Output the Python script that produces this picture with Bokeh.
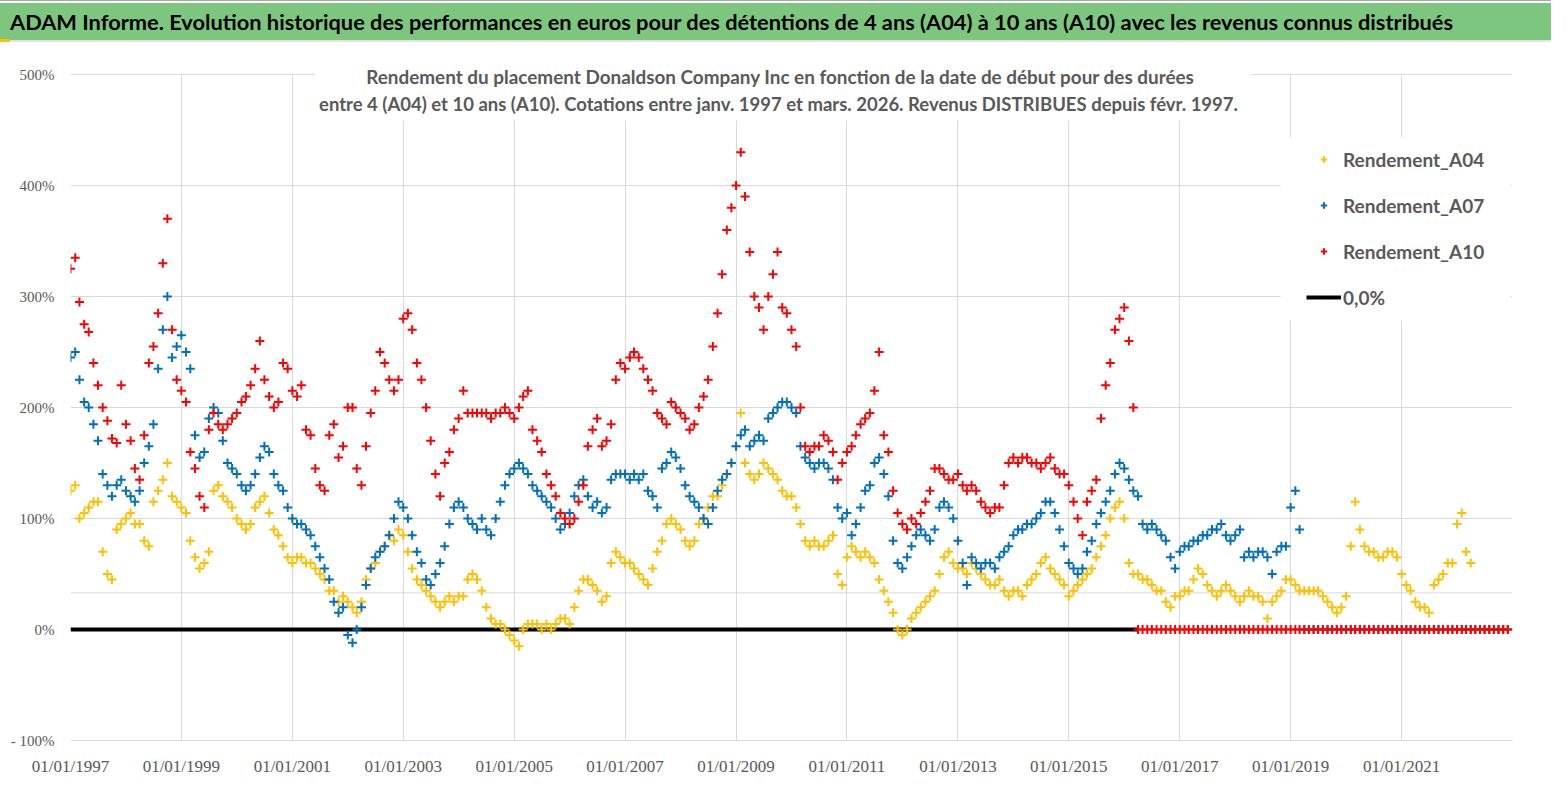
import pandas as pd
from bokeh.plotting import figure
from bokeh.layouts import column
from bokeh.models import (Range1d, FixedTicker, DatetimeTickFormatter, Span,
                          BoxAnnotation, Label, Legend, LegendItem, Div)
from bokeh.embed import file_html
from bokeh.resources import INLINE

# ---------------- data (monthly readings, % return) ----------------
MONTHS = pd.date_range("1997-01-01", "2022-12-01", freq="MS")

A04 = [
    125, 130, 100, 105, 110, 115, 115, 70, 50, 45, 90, 95,        # 1997
    100, 105, 95, 95, 80, 75, 115, 125, 135, 150, 120, 115,       # 1998
    110, 105, 80, 65, 55, 60, 70, 125, 130, 120, 115, 110,        # 1999
    100, 95, 90, 95, 110, 115, 120, 105, 90, 85, 75, 65,          # 2000
    60, 65, 65, 60, 60, 55, 50, 45, 35, 35, 25, 30,               # 2001
    25, 20, 15, 25, 45, 55, 60, 70, 75, 85, 80, 90,               # 2002
    85, 70, 55, 45, 40, 35, 30, 25, 20, 25, 30, 25,               # 2003
    30, 30, 45, 50, 45, 35, 20, 10, 5, 5, 0, -5,                  # 2004
    -10, -15, 0, 5, 5, 5, 0, 5, 0, 5, 10, 10,                     # 2005
    5, 20, 35, 45, 45, 40, 35, 25, 30, 60, 70, 65,                # 2006
    60, 60, 55, 50, 45, 40, 55, 70, 80, 95, 100, 95,              # 2007
    90, 80, 75, 80, 95, 100, 110, 120, 120, 130, 140, 150,        # 2008
    165, 195, 150, 140, 135, 140, 150, 145, 140, 135, 125, 120,   # 2009
    120, 110, 95, 80, 75, 80, 75, 75, 80, 85, 50, 40,             # 2010
    65, 75, 70, 65, 70, 65, 60, 45, 35, 25, 15, 0,                # 2011
    -5, 0, 10, 15, 20, 25, 30, 35, 50, 65, 70, 60,                # 2012
    55, 55, 50, 60, 55, 50, 45, 40, 40, 45, 35, 30,               # 2013
    35, 35, 30, 40, 45, 50, 60, 65, 55, 50, 45, 40,               # 2014
    30, 35, 40, 45, 50, 55, 65, 75, 85, 100, 110, 115,            # 2015
    100, 60, 50, 50, 45, 45, 40, 35, 35, 25, 20, 30,              # 2016
    30, 35, 35, 45, 55, 50, 40, 35, 30, 35, 40, 35,               # 2017
    30, 25, 30, 35, 30, 30, 25, 10, 25, 30, 35, 45,               # 2018
    45, 40, 35, 35, 35, 35, 35, 30, 25, 20, 15, 20,               # 2019
    30, 75, 115, 90, 75, 70, 70, 65, 65, 70, 70, 65,              # 2020
    50, 40, 35, 25, 20, 20, 15, 40, 45, 50, 60, 60,               # 2021
    95, 105, 70, 60,                                              # 2022
]

A07 = [
    245, 250, 225, 205, 200, 185, 170, 140, 130, 120, 130, 135,   # 1997
    125, 120, 115, 125, 150, 165, 185, 235, 270, 300, 245, 255,   # 1998
    265, 250, 235, 175, 155, 160, 190, 200, 195, 170, 150, 145,   # 1999
    140, 130, 125, 130, 140, 155, 165, 160, 140, 130, 125, 110,   # 2000
    100, 95, 95, 90, 85, 75, 65, 55, 45, 25, 15, 20,              # 2001
    -5, -12, 0, 20, 40, 55, 65, 70, 75, 85, 100, 115,             # 2002
    110, 100, 85, 70, 60, 45, 40, 50, 60, 75, 95, 110,            # 2003
    115, 110, 100, 95, 90, 100, 90, 85, 100, 115, 130, 140,       # 2004
    145, 150, 145, 140, 130, 125, 120, 115, 110, 100, 90, 95,     # 2005
    105, 120, 130, 135, 120, 110, 115, 105, 110, 135, 140, 140,   # 2006
    140, 135, 140, 135, 140, 125, 120, 110, 145, 150, 160, 155,   # 2007
    145, 130, 120, 115, 110, 100, 95, 110, 125, 135, 140, 150,    # 2008
    165, 175, 180, 165, 170, 175, 170, 190, 195, 200, 205, 205,   # 2009
    200, 195, 165, 155, 150, 145, 150, 150, 145, 135, 110, 100,   # 2010
    105, 85, 95, 110, 125, 130, 150, 155, 140, 120, 80, 60,       # 2011
    55, 65, 75, 85, 90, 85, 80, 90, 110, 115, 110, 100,           # 2012
    80, 60, 40, 65, 60, 55, 60, 60, 55, 65, 70, 75,               # 2013
    85, 90, 90, 95, 95, 100, 105, 115, 115, 105, 90, 75,          # 2014
    60, 55, 50, 55, 70, 80, 95, 105, 115, 125, 140, 150,          # 2015
    145, 135, 125, 120, 95, 90, 95, 90, 85, 80, 65, 55,           # 2016
    70, 75, 75, 80, 80, 85, 85, 90, 90, 95, 85, 80,               # 2017
    85, 90, 65, 70, 65, 70, 70, 65, 50, 70, 75, 75,               # 2018
    110, 125, 90,                                                 # 2019
]

A10 = [
    325, 335, 295, 275, 268, 240, 220, 200, 188, 172, 168, 220,   # 1997
    185, 170, 145, 135, 175, 240, 255, 285, 330, 370, 270, 225,   # 1998
    215, 205, 160, 145, 120, 110, 180, 195, 185, 180, 185, 190,   # 1999
    195, 205, 210, 220, 235, 260, 225, 210, 200, 205, 240, 235,   # 2000
    215, 210, 220, 180, 175, 145, 130, 125, 175, 185, 155, 165,   # 2001
    200, 200, 145, 130, 165, 195, 215, 250, 240, 225, 215, 225,   # 2002
    280, 285, 270, 240, 225, 200, 170, 140, 120, 150, 160, 180,   # 2003
    190, 215, 195, 195, 195, 195, 195, 190, 195, 195, 200, 195,   # 2004
    190, 200, 210, 215, 180, 170, 160, 140, 130, 120, 105, 100,   # 2005
    95, 100, 115, 130, 165, 180, 190, 165, 170, 185, 225, 240,    # 2006
    235, 245, 250, 245, 235, 225, 215, 195, 190, 185, 205, 200,   # 2007
    195, 190, 180, 185, 200, 210, 225, 255, 285, 320, 360, 380,   # 2008
    400, 430, 390, 340, 300, 290, 270, 300, 320, 340, 290, 285,   # 2009
    270, 255, 200, 165, 160, 165, 165, 175, 170, 160, 135, 150,   # 2010
    160, 165, 175, 185, 190, 195, 215, 250, 175, 160, 125, 105,   # 2011
    95, 90, 100, 95, 105, 115, 125, 145, 145, 140, 135, 135,      # 2012
    140, 130, 125, 130, 125, 115, 110, 105, 110, 110, 130, 150,   # 2013
    155, 150, 155, 155, 150, 150, 145, 150, 155, 145, 140, 140,   # 2014
    130, 115, 100, 85, 115, 125, 135, 190, 220, 240, 270, 280,    # 2015
    290, 260, 200,                                                # 2016
]

# after the last available start date the series are plotted at 0
A04_ALL = A04 + [0.0] * (len(MONTHS) - len(A04))
A07_ALL = A07 + [0.0] * (len(MONTHS) - len(A07))
A10_ALL = A10 + [0.0] * (len(MONTHS) - len(A10))
ZERO_DATES = list(MONTHS[:len(A10) + 1])
ZERO_VALUES = [0.0] * len(ZERO_DATES)

X_TICK_YEARS = [1997, 1999, 2001, 2003, 2005, 2007, 2009, 2011, 2013, 2015, 2017, 2019, 2021]
Y_TICKS = [-100, 0, 100, 200, 300, 400, 500]
Y_LABELS = ["- 100%", "0%", "100%", "200%", "300%", "400%", "500%"]

TITLE = ("ADAM Informe. Evolution historique des performances en euros pour des détentions "
         "de 4 ans (A04) à 10 ans (A10) avec les revenus connus distribués")
SUB1 = "Rendement du placement Donaldson Company Inc en fonction de la date de début pour des durées"
SUB2 = ("entre 4 (A04) et 10 ans (A10). Cotations entre janv. 1997 et mars. 2026. "
        "Revenus DISTRIBUES depuis févr. 1997.")

# ---------------- styles / layout ----------------
C04, C07, C10 = "#FFC000", "#0070C0", "#FF0000"
GRID = "#D9D9D9"
TXT = "#595959"
GREEN = "#7DC67E"
NARROW = "Liberation Sans Narrow"
HUM = "Lato"

W = 1551
HEAD_H = 42              # header block: grey rule, green bar 3..40, light rule 40..42
FRAME_TOP_PX = 42        # page y of the frame top
AXIS_TOP_PX = 74         # page y of the 500% line
AXIS_BOT_PX = 740        # page y of the -100% line
FRAME_H = AXIS_BOT_PX - FRAME_TOP_PX
PX_PER_UNIT = (AXIS_BOT_PX - AXIS_TOP_PX) / 600.0
Y_TOP = 500 + (AXIS_TOP_PX - FRAME_TOP_PX) / PX_PER_UNIT

x0 = pd.Timestamp("1997-01-01")
x1 = pd.Timestamp("2023-01-01")

title_div = Div(
    text=(f'<div style="width:{W}px;height:{HEAD_H}px;box-sizing:border-box;'
          f'border-top:1px solid #A6A6A6;padding-top:2px;border-bottom:2px solid #E3E3E3;'
          f'position:relative;">'
          f'<div style="background:{GREEN};height:37px;line-height:37px;padding-left:10px;'
          f'font-family:Lato;font-weight:bold;font-size:21.8px;color:black;white-space:nowrap;'
          f'overflow:hidden;">{TITLE}</div>'
          f'<div style="position:absolute;left:0;bottom:-2px;width:10px;height:3px;'
          f'background:#FFC000;"></div></div>'),
    width=W, height=HEAD_H, styles={"margin": "0", "padding": "0"})

p = figure(x_axis_type="datetime", frame_width=1442, frame_height=FRAME_H,
           min_border_left=70, min_border_right=39, min_border_top=0, min_border_bottom=34,
           x_range=Range1d(x0, x1), y_range=Range1d(-100, Y_TOP),
           output_backend="svg", toolbar_location=None)
p.outline_line_color = None
p.background_fill_color = "white"
p.border_fill_color = "white"

xt = FixedTicker(ticks=[pd.Timestamp(f"{y}-01-01").value / 1e6 for y in X_TICK_YEARS])
p.xaxis.ticker = xt
p.xgrid.ticker = xt
fmt = "%d/%m/%Y"
p.xaxis.formatter = DatetimeTickFormatter(years=fmt, months=fmt, days=fmt, hours=fmt,
                                          minutes=fmt, seconds=fmt, milliseconds=fmt,
                                          microseconds=fmt)
p.yaxis.ticker = FixedTicker(ticks=Y_TICKS)
p.yaxis.major_label_overrides = {t: l for t, l in zip(Y_TICKS, Y_LABELS)}

for ax in (p.xaxis, p.yaxis):
    ax.major_tick_line_color = None
    ax.minor_tick_line_color = None
    ax.major_label_text_color = TXT
    ax.major_label_text_font = NARROW
p.xaxis.axis_line_color = GRID
p.yaxis.axis_line_color = None
p.xaxis.major_label_text_font_size = "17px"
p.xaxis.major_label_standoff = 10
p.yaxis.major_label_text_font_size = "15px"
p.yaxis.major_label_standoff = 10
p.grid.grid_line_color = GRID
p.grid.grid_line_width = 1

p.add_layout(Span(location=33, dimension="width", line_color=GRID, line_width=1, level="underlay"))

# hide the grid above the 500% line
p.add_layout(BoxAnnotation(bottom=500 + 0.8 / PX_PER_UNIT, fill_color="white", fill_alpha=1,
                           line_color=None, level="underlay"))

# white boxes hiding the grid under the subtitle and legend (frame-relative screen px)
def screen_box(l, r, t, b, color="white", level="underlay"):
    return BoxAnnotation(left=l, right=r, top=t, bottom=b,
                         left_units="screen", right_units="screen",
                         top_units="screen", bottom_units="screen",
                         fill_color=color, fill_alpha=1, line_color=None, level=level)

p.add_layout(screen_box(244, 1180, 680, 620))
p.add_layout(screen_box(1210, 1440, 603, 420))

r0 = p.line(ZERO_DATES, ZERO_VALUES, line_color="black", line_width=4)
r4 = p.scatter(MONTHS, A04_ALL, marker="cross", size=9, line_width=2, color=C04)
r7 = p.scatter(MONTHS, A07_ALL, marker="cross", size=9, line_width=2, color=C07)
r10 = p.scatter(MONTHS, A10_ALL, marker="cross", size=9, line_width=2, color=C10)

legend = Legend(items=[LegendItem(label="Rendement_A04", renderers=[r4]),
                       LegendItem(label="Rendement_A07", renderers=[r7]),
                       LegendItem(label="Rendement_A10", renderers=[r10]),
                       LegendItem(label="0,0%", renderers=[r0])],
                location=(1236, 431), padding=10, spacing=22,
                glyph_width=35, glyph_height=16, label_height=24, label_standoff=2,
                label_text_font=HUM, label_text_font_style="bold",
                label_text_font_size="19px", label_text_color=TXT,
                background_fill_alpha=0, border_line_color=None)
p.add_layout(legend)

p.add_layout(Label(x=710, y=AXIS_BOT_PX - 76, x_units="screen", y_units="screen", text=SUB1,
                   text_font=HUM, text_font_style="bold", text_font_size="18.9px",
                   text_color=TXT, text_baseline="middle", text_align="center"))
p.add_layout(Label(x=708, y=AXIS_BOT_PX - 103, x_units="screen", y_units="screen", text=SUB2,
                   text_font=HUM, text_font_style="bold", text_font_size="18.5px",
                   text_color=TXT, text_baseline="middle", text_align="center"))

layout = column(title_div, p, spacing=0)
open("out.html", "w").write(file_html(layout, INLINE))
